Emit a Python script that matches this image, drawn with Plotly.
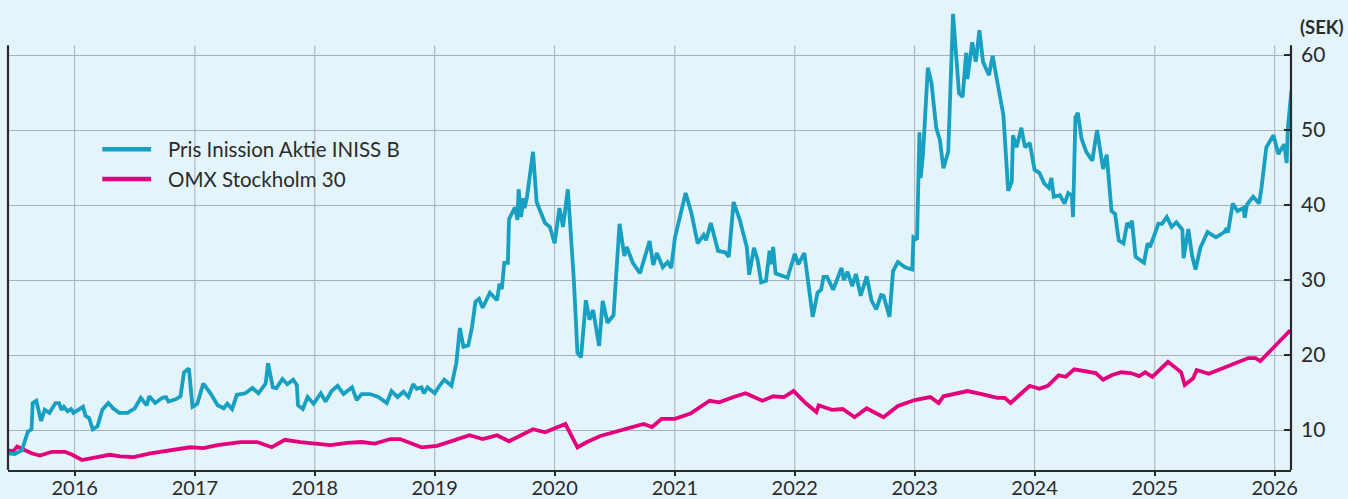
import pandas as pd
import plotly.graph_objects as go

# ---- data (decimal years, SEK) ----
iniss_t = [2015.44, 2015.50, 2015.56, 2015.61, 2015.64, 2015.65, 2015.68, 2015.72, 2015.75, 2015.79,
           2015.84, 2015.87, 2015.89, 2015.91, 2015.94, 2015.97, 2015.99, 2016.03, 2016.07, 2016.09,
           2016.12, 2016.15, 2016.19, 2016.23, 2016.28, 2016.32, 2016.37, 2016.44, 2016.50, 2016.55,
           2016.60, 2016.62, 2016.67, 2016.73, 2016.76, 2016.78, 2016.84, 2016.88, 2016.91, 2016.95,
           2016.98, 2017.02, 2017.07, 2017.13, 2017.19, 2017.24, 2017.27, 2017.31, 2017.35, 2017.42,
           2017.48, 2017.53, 2017.59, 2017.61, 2017.65, 2017.68, 2017.73, 2017.77, 2017.82, 2017.85,
           2017.86, 2017.90, 2017.94, 2017.99, 2018.05, 2018.09, 2018.14, 2018.19, 2018.24, 2018.31,
           2018.35, 2018.39, 2018.46, 2018.53, 2018.60, 2018.64, 2018.69, 2018.74, 2018.78, 2018.82,
           2018.85, 2018.89, 2018.91, 2018.94, 2019.00, 2019.04, 2019.08, 2019.14, 2019.18, 2019.21,
           2019.24, 2019.28, 2019.31, 2019.34, 2019.37, 2019.40, 2019.46, 2019.52, 2019.54, 2019.56,
           2019.58, 2019.61, 2019.62, 2019.67, 2019.69, 2019.70, 2019.72, 2019.74, 2019.75, 2019.77,
           2019.82, 2019.85, 2019.92, 2019.96, 2020.00, 2020.04, 2020.07, 2020.11, 2020.16, 2020.19,
           2020.22, 2020.26, 2020.29, 2020.32, 2020.37, 2020.40, 2020.44, 2020.49, 2020.52, 2020.54,
           2020.58, 2020.60, 2020.65, 2020.71, 2020.79, 2020.82, 2020.85, 2020.90, 2020.94, 2020.97,
           2021.00, 2021.09, 2021.14, 2021.19, 2021.24, 2021.26, 2021.30, 2021.36, 2021.42, 2021.45,
           2021.49, 2021.54, 2021.60, 2021.62, 2021.66, 2021.69, 2021.72, 2021.76, 2021.79, 2021.80,
           2021.82, 2021.84, 2021.94, 2022.00, 2022.03, 2022.08, 2022.15, 2022.19, 2022.22, 2022.24,
           2022.27, 2022.32, 2022.39, 2022.41, 2022.44, 2022.48, 2022.51, 2022.55, 2022.60, 2022.64,
           2022.68, 2022.72, 2022.74, 2022.79, 2022.82, 2022.86, 2022.92, 2022.98, 2022.99, 2023.02,
           2023.04, 2023.05, 2023.07, 2023.11, 2023.14, 2023.18, 2023.21, 2023.24, 2023.28, 2023.32,
           2023.37, 2023.40, 2023.43, 2023.44, 2023.48, 2023.51, 2023.54, 2023.57, 2023.62, 2023.65,
           2023.70, 2023.74, 2023.78, 2023.81, 2023.82, 2023.85, 2023.89, 2023.92, 2023.96, 2024.00,
           2024.04, 2024.08, 2024.12, 2024.14, 2024.16, 2024.21, 2024.25, 2024.28, 2024.31, 2024.32,
           2024.34, 2024.36, 2024.39, 2024.43, 2024.48, 2024.52, 2024.57, 2024.60, 2024.64, 2024.67,
           2024.70, 2024.74, 2024.77, 2024.79, 2024.81, 2024.84, 2024.91, 2024.94, 2024.96, 2025.03,
           2025.06, 2025.10, 2025.14, 2025.18, 2025.23, 2025.24, 2025.28, 2025.31, 2025.34, 2025.38,
           2025.44, 2025.51, 2025.58, 2025.60, 2025.61, 2025.65, 2025.69, 2025.74, 2025.75, 2025.77,
           2025.82, 2025.87, 2025.89, 2025.93, 2025.99, 2026.03, 2026.08, 2026.10, 2026.11, 2026.14]
iniss_v = [6.9, 6.8, 7.3, 9.8, 10.1, 13.6, 13.9, 11.2, 12.7, 12.3,
           13.6, 13.6, 12.7, 13.1, 12.5, 12.8, 12.3, 12.7, 13.1, 11.9,
           11.6, 10.1, 10.5, 12.7, 13.6, 12.9, 12.3, 12.3, 12.9, 14.3,
           13.3, 14.5, 13.6, 14.3, 14.4, 13.8, 14.1, 14.5, 17.7, 18.2,
           13.1, 13.5, 16.2, 14.9, 13.3, 12.9, 13.5, 12.8, 14.7, 14.9,
           15.6, 14.9, 16.2, 18.9, 15.7, 15.6, 16.8, 16.1, 16.7, 16.0,
           13.3, 12.8, 14.4, 13.5, 14.9, 13.8, 15.2, 15.9, 14.8, 15.7,
           14.0, 14.8, 14.8, 14.4, 13.6, 15.2, 14.4, 15.1, 14.4, 16.1,
           15.5, 15.7, 14.9, 15.7, 14.9, 15.9, 16.7, 15.9, 18.9, 23.6,
           21.1, 21.3, 23.6, 27.1, 27.5, 26.3, 28.3, 27.3, 29.5, 28.8,
           32.3, 32.3, 38.1, 39.7, 38.0, 42.1, 38.4, 40.9, 39.6, 41.1,
           47.1, 40.4, 37.6, 37.1, 34.9, 39.6, 37.1, 42.1, 30.0, 20.3,
           19.7, 27.3, 24.7, 26.0, 21.2, 27.2, 24.3, 25.3, 33.6, 37.5,
           33.2, 34.4, 32.3, 30.9, 35.2, 32.0, 33.6, 31.7, 32.4, 31.6,
           35.6, 41.6, 38.8, 34.9, 36.0, 35.3, 37.6, 33.9, 33.7, 33.1,
           40.4, 38.1, 34.4, 30.7, 34.3, 32.7, 29.7, 29.9, 33.9, 32.1,
           34.4, 30.9, 30.3, 33.5, 32.1, 33.6, 25.1, 28.3, 28.7, 30.4,
           30.4, 28.7, 31.6, 30.0, 31.1, 29.2, 30.8, 27.9, 30.5, 27.3,
           26.1, 28.0, 27.9, 25.1, 31.2, 32.4, 31.7, 31.4, 35.7, 35.4,
           49.7, 43.6, 46.9, 58.3, 56.3, 50.3, 48.7, 44.9, 47.1, 65.5,
           54.9, 54.4, 60.3, 56.8, 61.7, 59.1, 63.3, 59.1, 57.3, 59.9,
           55.5, 52.0, 41.9, 43.1, 49.3, 47.7, 50.3, 47.7, 48.3, 44.7,
           44.3, 42.9, 42.3, 43.6, 41.1, 41.3, 40.2, 41.6, 41.3, 38.4,
           51.7, 52.3, 48.9, 47.1, 45.9, 50.0, 44.8, 46.7, 39.2, 38.8,
           35.3, 34.9, 37.6, 37.2, 37.9, 33.1, 32.3, 34.9, 34.4, 37.5,
           37.5, 38.4, 37.1, 37.7, 36.7, 32.9, 36.8, 33.3, 31.4, 34.3,
           36.4, 35.7, 36.4, 36.9, 36.3, 40.2, 39.2, 39.6, 38.3, 40.1,
           41.1, 40.2, 42.3, 47.7, 49.3, 46.8, 48.1, 45.6, 50.3, 55.3]

omx_t = [2015.44, 2015.49, 2015.52, 2015.57, 2015.64, 2015.71, 2015.81, 2015.92, 2015.98, 2016.06,
         2016.19, 2016.29, 2016.38, 2016.49, 2016.63, 2016.77, 2016.96, 2017.07, 2017.19, 2017.38,
         2017.52, 2017.64, 2017.75, 2017.88, 2018.00, 2018.13, 2018.27, 2018.39, 2018.50, 2018.63,
         2018.71, 2018.81, 2018.89, 2019.02, 2019.11, 2019.29, 2019.40, 2019.52, 2019.62, 2019.71,
         2019.82, 2019.92, 2020.02, 2020.09, 2020.19, 2020.27, 2020.38, 2020.49, 2020.63, 2020.74,
         2020.81, 2020.89, 2021.00, 2021.13, 2021.29, 2021.37, 2021.49, 2021.59, 2021.73, 2021.82,
         2021.91, 2021.99, 2022.09, 2022.18, 2022.20, 2022.31, 2022.40, 2022.50, 2022.60, 2022.74,
         2022.86, 2023.00, 2023.13, 2023.20, 2023.24, 2023.32, 2023.44, 2023.56, 2023.69, 2023.75,
         2023.80, 2023.89, 2023.96, 2024.04, 2024.11, 2024.20, 2024.26, 2024.33, 2024.42, 2024.51,
         2024.57, 2024.64, 2024.72, 2024.80, 2024.87, 2024.92, 2024.98, 2025.11, 2025.22, 2025.25,
         2025.32, 2025.35, 2025.45, 2025.53, 2025.64, 2025.78, 2025.84, 2025.88, 2025.96, 2026.04,
         2026.13]
omx_v = [7.3, 7.2, 7.8, 7.4, 6.9, 6.6, 7.1, 7.1, 6.7, 6.0,
         6.4, 6.7, 6.5, 6.4, 6.9, 7.2, 7.7, 7.6, 8.0, 8.4,
         8.4, 7.7, 8.7, 8.4, 8.2, 8.0, 8.3, 8.4, 8.2, 8.8,
         8.8, 8.2, 7.7, 7.9, 8.4, 9.3, 8.8, 9.3, 8.5, 9.2,
         10.1, 9.7, 10.4, 10.8, 7.7, 8.4, 9.2, 9.7, 10.4, 10.8,
         10.4, 11.5, 11.5, 12.2, 13.9, 13.7, 14.4, 14.9, 13.9, 14.5,
         14.4, 15.2, 13.6, 12.4, 13.3, 12.7, 12.8, 11.7, 12.9, 11.7,
         13.2, 14.0, 14.4, 13.6, 14.5, 14.8, 15.2, 14.8, 14.3, 14.3,
         13.6, 14.9, 15.9, 15.5, 15.9, 17.3, 17.1, 18.1, 17.9, 17.6,
         16.7, 17.3, 17.7, 17.6, 17.2, 17.7, 17.1, 19.1, 17.7, 16.0,
         16.9, 18.0, 17.5, 18.0, 18.8, 19.6, 19.6, 19.2, 20.5, 21.9,
         23.3]

years = list(range(2016, 2027))
y_ticks = [10, 20, 30, 40, 50, 60]
x_span = [2015.444, 2026.136]
y_span = [4.67, 66.27]
grid_top = 61.3

series_names = ["Pris Inission Aktie INISS B", "OMX Stockholm 30"]
colors = ["#17a0c1", "#e4007d"]


def to_date(t):
    y = int(t)
    start = pd.Timestamp(year=y, month=1, day=1)
    end = pd.Timestamp(year=y + 1, month=1, day=1)
    return start + (end - start) * (t - y)


FONT = "Lato"
BG = "#e4f4fb"
GRID = "#a9b0b8"
AX = "#2a2a2a"
TXT = "#2b2b2b"

fig = go.Figure()
fig.add_trace(go.Scatter(x=[to_date(t) for t in omx_t], y=omx_v, mode="lines",
                         line=dict(color=colors[1], width=3.8), name=series_names[1],
                         showlegend=False))
fig.add_trace(go.Scatter(x=[to_date(t) for t in iniss_t], y=iniss_v, mode="lines",
                         line=dict(color=colors[0], width=3.8), name=series_names[0],
                         showlegend=False))

shapes = []
# vertical year gridlines
for yr in years:
    shapes.append(dict(type="line", xref="x", yref="y", x0=pd.Timestamp(year=yr, month=1, day=1),
                       x1=pd.Timestamp(year=yr, month=1, day=1), y0=y_span[0], y1=grid_top,
                       line=dict(color=GRID, width=1), layer="below"))
# left and right axis lines
for xp in (0, 1):
    shapes.append(dict(type="line", xref="paper", yref="y", x0=xp, x1=xp, y0=y_span[0], y1=grid_top,
                       line=dict(color=AX, width=2.2), layer="above"))

# custom legend
leg_y = [0.694, 0.630]
for i in range(2):
    shapes.append(dict(type="line", xref="paper", yref="paper", x0=0.0735, x1=0.1115,
                       y0=leg_y[i], y1=leg_y[i], line=dict(color=colors[i], width=4.5)))

annotations = [dict(xref="paper", yref="paper", x=0.1235, y=leg_y[i], text=series_names[i],
                    showarrow=False, xanchor="left", yanchor="middle",
                    font=dict(family=FONT, size=20.5, color=TXT)) for i in range(2)]
annotations.append(dict(xref="paper", yref="paper", x=1.0055, y=0.958, text="<b>(SEK)</b>",
                        showarrow=False, xanchor="left", yanchor="middle",
                        font=dict(family=FONT, size=18.5, color=TXT)))

fig.update_layout(
    width=1348, height=499,
    margin=dict(l=8, r=57, t=8, b=29, autoexpand=False),
    paper_bgcolor=BG, plot_bgcolor=BG,
    shapes=shapes, annotations=annotations,
    font=dict(family=FONT, color=TXT),
    xaxis=dict(type="date", range=[to_date(x_span[0]), to_date(x_span[1])],
               tickvals=[pd.Timestamp(year=yr, month=1, day=1) for yr in years],
               ticktext=[str(yr) for yr in years],
               showgrid=False, zeroline=False, automargin=False,
               showline=True, linecolor=AX, linewidth=2.2,
               ticks="outside", ticklen=4, tickcolor=AX, tickwidth=1.5,
               ticklabelstandoff=-5,
               tickfont=dict(family=FONT, size=20, color=TXT)),
    yaxis=dict(side="right", range=y_span, tickvals=y_ticks,
               showgrid=True, gridcolor=GRID, gridwidth=1, zeroline=False, automargin=False,
               showline=False, ticks="inside", ticklen=7, tickcolor=AX, tickwidth=1.5,
               ticklabelstandoff=9,
               tickfont=dict(family=FONT, size=21, color=TXT)),
)

fig.write_html("out.html", config={"displayModeBar": False},
               post_script="document.body.style.margin='0';document.body.style.overflow='hidden';")
